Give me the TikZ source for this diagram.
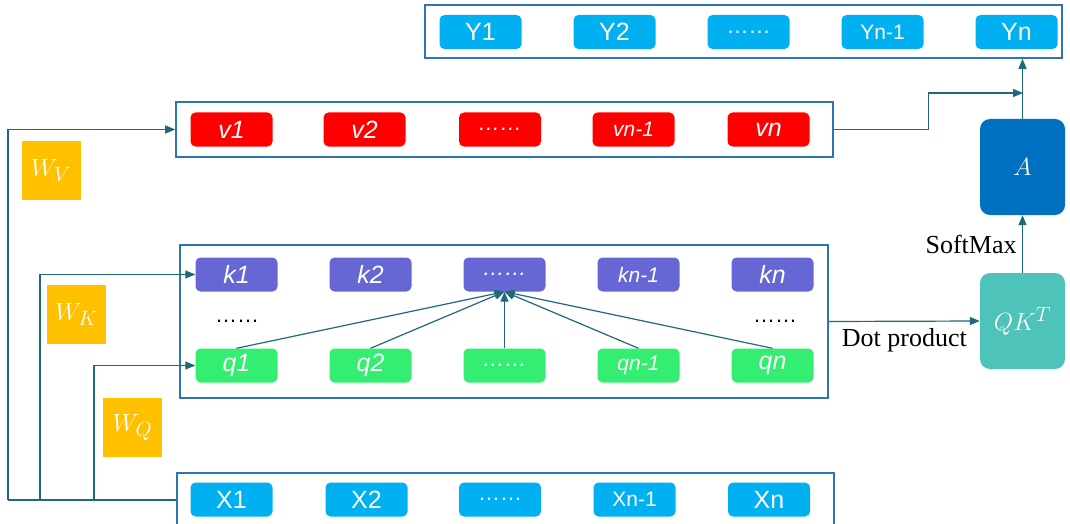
\documentclass[tikz,border=0pt]{standalone}
\usepackage{fontspec}
\setsansfont{Liberation Sans}
\setmainfont{Liberation Serif}
\usetikzlibrary{arrows.meta}
\definecolor{framec}{HTML}{2E75B6}
\definecolor{connc}{HTML}{1F6A7A}
\definecolor{ycol}{HTML}{00B0F0}
\definecolor{vcol}{HTML}{FF0000}
\definecolor{kcol}{HTML}{6666D4}
\definecolor{qcol}{HTML}{33EE70}
\definecolor{wgold}{HTML}{FFC000}
\definecolor{acol}{HTML}{0070C0}
\definecolor{qkcol}{HTML}{4DC3B9}
\tikzset{
  frame/.style={draw=framec, line width=1.6pt, inner sep=0},
  cell/.style={rounded corners=5pt, minimum width=82pt, minimum height=34pt, inner sep=0,
    text=white, font=\sffamily\fontsize{25}{25}\selectfont},
  small/.style={font=\sffamily\fontsize{21}{21}\selectfont},
  ital/.style={font=\sffamily\itshape\fontsize{25}{25}\selectfont},
  italsmall/.style={font=\sffamily\itshape\fontsize{21}{21}\selectfont},
  dots/.style={font=\sffamily\fontsize{22}{22}\selectfont},
  italdots/.style={font=\sffamily\itshape\fontsize{22}{22}\selectfont},
  wbox/.style={fill=wgold, minimum size=59pt, inner sep=0, text=white, font=\fontsize{30}{30}\selectfont},
  opbox/.style={rounded corners=10pt, minimum width=85pt, minimum height=96pt, inner sep=0,
    text=white, font=\fontsize{30}{30}\selectfont},
  conn/.style={draw=connc, line width=1.2pt},
  arr/.style={conn, -{Triangle[length=10pt,width=8pt]}},
  lbl/.style={font=\fontsize{26}{26}\selectfont, text=black}
}
\begin{document}
\begin{tikzpicture}[x=1pt,y=-1pt]
\useasboundingbox (0,0) rectangle (1070,524);
\clip (0,0) rectangle (1070,524);
\fill[white] (0,0) rectangle (1070,524);

% output row Y
\node[frame, minimum width=637pt, minimum height=53pt] (ybox) at (743.5,31.5) {};
\node[cell, fill=ycol] (y1) at (480.5,32) {Y1};
\node[cell, fill=ycol] (y2) at (614.5,32) {Y2};
\node[cell, fill=ycol, dots] (yd) at (748.5,32) {……};
\node[cell, fill=ycol, small] (yn1) at (882.5,32) {Yn-1};
\node[cell, fill=ycol] (yn) at (1016.5,32) {Yn};

% value row
\node[frame, minimum width=657pt, minimum height=55pt] (vbox) at (504.5,129.5) {};
\node[cell, fill=vcol, ital] (v1) at (231.5,129.5) {v1};
\node[cell, fill=vcol, ital] (v2) at (364.5,129.5) {v2};
\node[cell, fill=vcol, italdots] (vd) at (500,129.5) {……};
\node[cell, fill=vcol, italsmall] (vn1) at (633.5,129.5) {vn-1};
\node[cell, fill=vcol, ital] (vn) at (768.5,129.5) {vn};

% key / query block
\node[frame, minimum width=648pt, minimum height=153pt] (kqbox) at (504,321.5) {};
\node[cell, fill=kcol, ital] (k1) at (236.5,274.5) {k1};
\node[cell, fill=kcol, ital] (k2) at (370.5,274.5) {k2};
\node[cell, fill=kcol, italdots] (kd) at (504.5,274.5) {……};
\node[cell, fill=kcol, italsmall] (kn1) at (638.5,274.5) {kn-1};
\node[cell, fill=kcol, ital] (kn) at (772.5,274.5) {kn};
\node[cell, fill=qcol, ital] (q1) at (236.5,365.5) {q1};
\node[cell, fill=qcol, ital] (q2) at (370.5,365.5) {q2};
\node[cell, fill=qcol, italdots] (qd) at (504.5,365.5) {……};
\node[cell, fill=qcol, italsmall] (qn1) at (638.5,365.5) {qn-1};
\node[cell, fill=qcol, ital] (qn) at (772.5,365.5) {qn};
\node[dots, text=black] (dl) at (237,321) {……};
\node[dots, text=black] (dr) at (775,321) {……};

% input row X
\node[frame, minimum width=657pt, minimum height=54pt] (xbox) at (505.5,500) {};
\node[cell, fill=ycol] (x1) at (231.5,499.5) {X1};
\node[cell, fill=ycol] (x2) at (366.5,499.5) {X2};
\node[cell, fill=ycol, dots] (xd) at (500,499.5) {……};
\node[cell, fill=ycol, small] (xn1) at (634.5,499.5) {Xn-1};
\node[cell, fill=ycol] (xn) at (769,499.5) {Xn};

% projection weights
\node[wbox] (wv) at (51,170.5) {$W_V$};
\node[wbox] (wk) at (76.5,314.5) {$W_K$};
\node[wbox] (wq) at (132.5,427.5) {$W_Q$};

% attention operations
\node[opbox, fill=acol] (amat) at (1022.5,167) {$A$};
\node[opbox, fill=qkcol] (qk) at (1022.5,321) {$QK^T$};

% branch points of the input bus
\coordinate (bv) at (8,500);
\coordinate (bk) at (40,500);
\coordinate (bq) at (94,500);
\coordinate (merge) at (1023,93);

\draw[conn] (xbox.west) -- (bv);
\draw[arr] (bv) |- (vbox.west);
\draw[arr] (bk) |- (k1.west);
\draw[arr] (bq) |- (q1.west);

% queries attend to a key
\foreach \q in {q1,q2,qd,qn1,qn}
  \draw[arr] (\q.north) -- (kd.south);

\draw[arr] (kqbox.east) -- node[lbl, below=3pt] {Dot product} (qk.west);
\draw[arr] (qk.north) -- node[lbl, left=2pt] {SoftMax} (amat.south);
\draw[arr] (vbox.east) -- ++(95,0) |- (merge);
\draw[arr] (amat.north) -- (amat.north |- ybox.south);
\end{tikzpicture}
\end{document}
